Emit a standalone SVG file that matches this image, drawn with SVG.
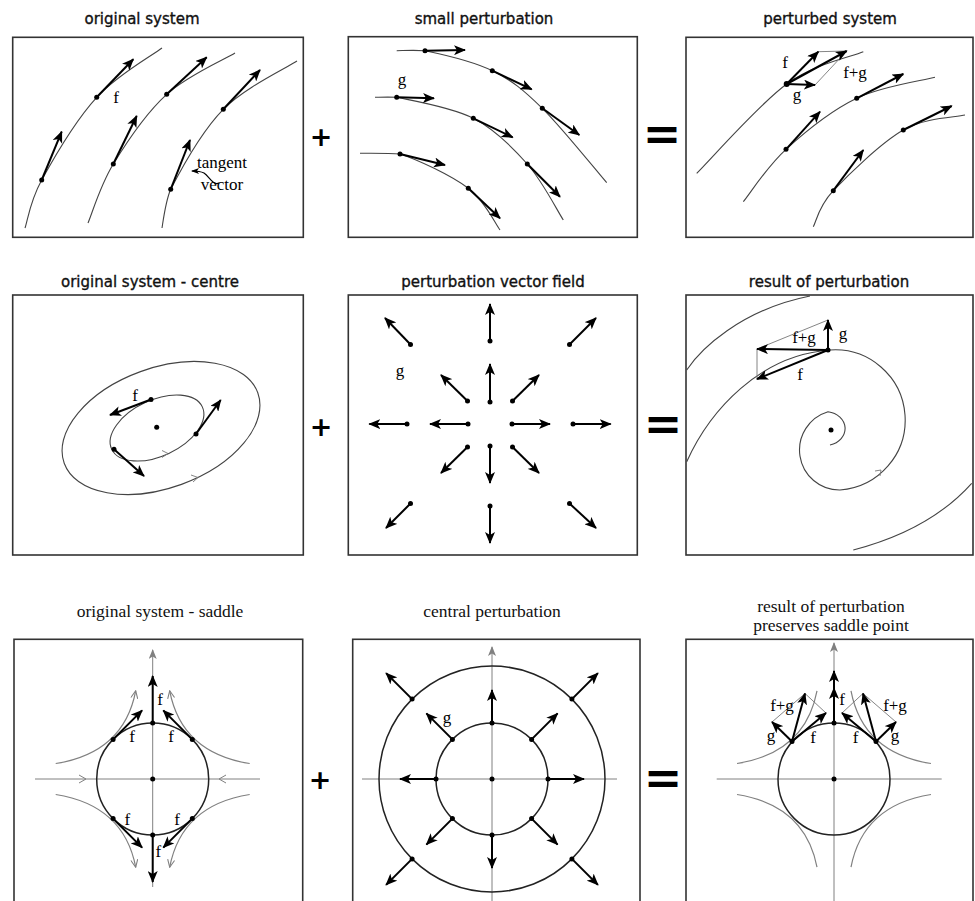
<svg xmlns="http://www.w3.org/2000/svg" width="975" height="901" viewBox="0 0 975 901">
<style>
.box{fill:none;stroke:#333;stroke-width:1.6}
.cv{fill:none;stroke:#444;stroke-width:1.1}
.ax{fill:none;stroke:#808080;stroke-width:1}
.hy{fill:none;stroke:#808080;stroke-width:1.2}
.vec{fill:none;stroke:#000;stroke-width:2;marker-end:url(#ah)}
.thin{fill:none;stroke:#777;stroke-width:0.9}
.dot{fill:#000}
.t1{font-family:"DejaVu Sans",sans-serif;font-size:15px;text-anchor:middle;fill:#111;stroke:#111;stroke-width:0.35}
.t3{font-family:"Liberation Serif",serif;font-size:17.5px;text-anchor:middle;fill:#111}
.lb{font-family:"Liberation Serif",serif;font-size:17px;text-anchor:middle;fill:#000}
.op{font-family:"DejaVu Sans",sans-serif;font-weight:bold;text-anchor:middle;fill:#000}
</style>
<defs>
<marker id="ah" viewBox="0 0 12 10" markerWidth="12" markerHeight="10" refX="11" refY="5" orient="auto" markerUnits="userSpaceOnUse"><path d="M0,0 L12,5 L0,10 L3,5 z" fill="#000"/></marker>
<marker id="ag" viewBox="0 0 10 8" markerWidth="10" markerHeight="8" refX="9" refY="4" orient="auto" markerUnits="userSpaceOnUse"><path d="M0,0 L10,4 L0,8 L2.5,4 z" fill="#808080"/></marker>
<marker id="ch" viewBox="0 0 9 8" markerWidth="9" markerHeight="8" refX="8" refY="4" orient="auto" markerUnits="userSpaceOnUse"><path d="M0.5,0.5 L8,4 L0.5,7.5" fill="none" stroke="#808080" stroke-width="1.1"/></marker>
<marker id="ap" viewBox="0 0 8 6" markerWidth="8" markerHeight="6" refX="7" refY="3" orient="auto" markerUnits="userSpaceOnUse"><path d="M0,0 L8,3 L0,6 L2,3 z" fill="#000"/></marker>
</defs>
<rect width="975" height="901" fill="#fff"/>

<g id="titles">
<text class="t1" x="142" y="24">original system</text>
<text class="t1" x="484" y="24">small perturbation</text>
<text class="t1" x="830" y="24">perturbed system</text>
<text class="t1" x="150" y="287">original system - centre</text>
<text class="t1" x="493" y="287">perturbation vector field</text>
<text class="t1" x="829" y="287">result of perturbation</text>
<text class="t3" x="160" y="617">original system - saddle</text>
<text class="t3" x="492" y="617">central perturbation</text>
<text class="t3" x="831" y="612">result of perturbation</text>
<text class="t3" x="831" y="631">preserves saddle point</text>
</g>

<g id="operators">
<text class="op" x="321" y="146" font-size="27">+</text>
<text class="op" x="662" y="150" font-size="46">=</text>
<text class="op" x="321" y="436" font-size="27">+</text>
<text class="op" x="663" y="440" font-size="46">=</text>
<text class="op" x="320" y="789" font-size="27">+</text>
<text class="op" x="663" y="794" font-size="46">=</text>
</g>

<g id="panel-original-system">
<rect class="box" x="12.7" y="37.3" width="290.6" height="200"/>
<path class="cv" d="M25,228 C27.8,220 29.75,201.8 41.7,180 C53.65,158.2 76.65,119.3 96.7,97.3 C116.75,75.3 151.1,56.2 162,48"/>
<path class="cv" d="M88,223 C92.2,213.2 100.2,185.45 113.3,164 C126.4,142.55 146.4,112.8 166.7,94.3 C187,75.8 223.6,59.9 235,53"/>
<path class="cv" d="M162,228 C164,215 166,200 170.7,189.3 C180.9,169.5 202.25,130.7 223.3,109.3 C244.35,87.9 284.7,69 297,61"/>
<path class="vec" d="M41.7,180 L61.7,131.7"/>
<path class="vec" d="M96.7,97.3 L133.3,59.3"/>
<path class="vec" d="M113.3,164 L136.7,116"/>
<path class="vec" d="M166.7,94.3 L206.7,57.3"/>
<path class="vec" d="M170.7,189.3 L190,140"/>
<path class="vec" d="M223.3,109.3 L260,70"/>
<circle class="dot" cx="41.7" cy="180" r="2.5"/>
<circle class="dot" cx="96.7" cy="97.3" r="2.5"/>
<circle class="dot" cx="113.3" cy="164" r="2.5"/>
<circle class="dot" cx="166.7" cy="94.3" r="2.5"/>
<circle class="dot" cx="170.7" cy="189.3" r="2.5"/>
<circle class="dot" cx="223.3" cy="109.3" r="2.5"/>
<text class="lb" x="116" y="103">f</text>
<text class="lb" x="222" y="168" text-anchor="start">tangent</text>
<text class="lb" x="222" y="190" text-anchor="start">vector</text>
<path d="M219,183 C213,186 209,176 204,173 C200,171 197,171 192,171" fill="none" stroke="#000" stroke-width="1.2" marker-end="url(#ap)"/>
</g>

<g id="panel-small-perturbation">
<rect class="box" x="348.3" y="36.7" width="289" height="200.6"/>
<path class="cv" d="M396.7,50.7 C406,50.5 414,50 425,50.7 C440.9,54 472.75,61.1 492.3,70.7 C511.85,80.3 523.2,89.6 542.3,108.3 C561.4,127 596,170.3 606.7,182.7"/>
<path class="cv" d="M375,97.3 C382,97.2 389,97 396.7,97.3 C413.1,100.8 451.5,107.2 473.3,118.3 C495.1,129.4 512.3,147 527.3,164 C542.3,181 557.3,210.7 563.3,220"/>
<path class="cv" d="M360,153.3 C366.7,153.4 388,153 400,154 C418.05,159.8 451.6,175.6 468.3,188.3 C485,201 494.7,223 500,230"/>
<path class="vec" d="M425,50.7 L465,50"/>
<path class="vec" d="M492.3,70.7 L531.7,89.3"/>
<path class="vec" d="M542.3,108.3 L579.3,135"/>
<path class="vec" d="M396.7,97.3 L434,98.3"/>
<path class="vec" d="M473.3,118.3 L512.7,137.3"/>
<path class="vec" d="M527.3,164 L560,196.7"/>
<path class="vec" d="M400,154 L445,165"/>
<path class="vec" d="M468.3,188.3 L500,218.3"/>
<circle class="dot" cx="425" cy="50.7" r="2.5"/>
<circle class="dot" cx="492.3" cy="70.7" r="2.5"/>
<circle class="dot" cx="542.3" cy="108.3" r="2.5"/>
<circle class="dot" cx="396.7" cy="97.3" r="2.5"/>
<circle class="dot" cx="473.3" cy="118.3" r="2.5"/>
<circle class="dot" cx="527.3" cy="164" r="2.5"/>
<circle class="dot" cx="400" cy="154" r="2.5"/>
<circle class="dot" cx="468.3" cy="188.3" r="2.5"/>
<text class="lb" x="402" y="85">g</text>
</g>

<g id="panel-perturbed-system">
<rect class="box" x="686" y="37.3" width="287" height="200"/>
<path class="cv" d="M696.7,173.3 C711.7,158.4 758.9,104.3 786.7,84 C814.5,63.7 850.5,57.1 863.3,51.7"/>
<path class="cv" d="M743.3,201.7 C750.4,193 767.1,166.5 786,149.3 C804.9,132.1 831.9,110.3 856.7,98.3 C881.5,86.3 922,80.8 935,77.3"/>
<path class="cv" d="M813.3,226.7 C816.6,220.7 818.3,206.8 833.3,190.7 C848.3,174.6 881.35,142.6 903.3,130 C925.25,117.4 954.7,117.5 965,115"/>
<path class="thin" d="M818.3,51.7 L846.7,51 M815,85 L846.7,51"/>
<path class="vec" d="M786.7,84 L818.3,51.7"/>
<path class="vec" d="M786.7,84 L815,85"/>
<path class="vec" d="M786.7,84 L846.7,51"/>
<path class="vec" d="M856.7,98.3 L903.3,74"/>
<path class="vec" d="M786,149.3 L820,111.7"/>
<path class="vec" d="M833.3,190.7 L863.3,150"/>
<path class="vec" d="M903.3,130 L951.7,106"/>
<circle class="dot" cx="786.7" cy="84" r="3"/>
<circle class="dot" cx="856.7" cy="98.3" r="2.5"/>
<circle class="dot" cx="786" cy="149.3" r="2.5"/>
<circle class="dot" cx="833.3" cy="190.7" r="2.5"/>
<circle class="dot" cx="903.3" cy="130" r="2.5"/>
<text class="lb" x="785" y="68">f</text>
<text class="lb" x="797" y="100">g</text>
<text class="lb" x="855" y="78">f+g</text>
</g>

<g id="panel-original-centre">
<rect class="box" x="12.7" y="295" width="290.6" height="260"/>
<ellipse class="cv" cx="161" cy="428" rx="103" ry="60" transform="rotate(-20 161 428)"/>
<ellipse class="cv" cx="157" cy="428" rx="50" ry="28" transform="rotate(-25 157 428)"/>
<path class="thin" d="M162,450.5 L168,453.5 L162,457.5"/>
<path class="thin" d="M191,475 L198,477.5 L193,482"/>
<path class="vec" d="M151,399.5 L110,415"/>
<path class="vec" d="M196,434 L220.7,400"/>
<path class="vec" d="M114,449.3 L144,476"/>
<circle class="dot" cx="151" cy="399.5" r="2.5"/>
<circle class="dot" cx="196" cy="434" r="2.5"/>
<circle class="dot" cx="114" cy="449.3" r="2.5"/>
<circle class="dot" cx="156.7" cy="427.3" r="2.5"/>
<text class="lb" x="135" y="400.7">f</text>
</g>

<g id="panel-perturbation-field">
<rect class="box" x="348.3" y="295" width="289" height="260"/>
<path class="vec" d="M468,424 L430,424"/>
<path class="vec" d="M512,424 L550,424"/>
<path class="vec" d="M490,402 L490,364"/>
<path class="vec" d="M490,446 L490,483"/>
<path class="vec" d="M467.5,401 L441,375"/>
<path class="vec" d="M512.5,401 L539,375"/>
<path class="vec" d="M467.5,447 L441,473"/>
<path class="vec" d="M512.5,447 L539,473"/>
<path class="vec" d="M407,424 L369.3,424"/>
<path class="vec" d="M573,424 L610.7,424"/>
<path class="vec" d="M490,341 L490,304"/>
<path class="vec" d="M490,506 L490,543"/>
<path class="vec" d="M410.5,344.5 L385,318"/>
<path class="vec" d="M569.5,344.5 L596,318"/>
<path class="vec" d="M410.5,503.5 L386,528"/>
<path class="vec" d="M569.5,503.5 L596,528"/>
<g class="dot">
<circle cx="468" cy="424" r="2.5"/><circle cx="512" cy="424" r="2.5"/><circle cx="490" cy="402" r="2.5"/><circle cx="490" cy="446" r="2.5"/>
<circle cx="467.5" cy="401" r="2.5"/><circle cx="512.5" cy="401" r="2.5"/><circle cx="467.5" cy="447" r="2.5"/><circle cx="512.5" cy="447" r="2.5"/>
<circle cx="407" cy="424" r="2.5"/><circle cx="573" cy="424" r="2.5"/><circle cx="490" cy="341" r="2.5"/><circle cx="490" cy="506" r="2.5"/>
<circle cx="410.5" cy="344.5" r="2.5"/><circle cx="569.5" cy="344.5" r="2.5"/><circle cx="410.5" cy="503.5" r="2.5"/><circle cx="569.5" cy="503.5" r="2.5"/>
</g>
<text class="lb" x="400" y="376">g</text>
</g>

<g id="panel-result-spiral">
<rect class="box" x="686" y="295" width="287" height="260"/>
<path class="cv" d="M686.7,370 C700,350 740,310 810,296"/>
<path class="cv" d="M686.7,461.7 C710,410 760,355 830,350 A70,70 0 0 1 840,490 A40,40 0 0 1 828,411.7 A20,17 0 0 1 830,445"/>
<path class="cv" d="M853.3,550 Q930,530 971.7,483.3"/>
<path class="thin" d="M875,471 L881,470 L880,476"/>
<path class="thin" d="M828,320 L757,349 L757,379"/>
<path class="vec" d="M828,350 L828,320"/>
<path class="vec" d="M828,350 L757,349"/>
<path class="vec" d="M828,350 L757,379"/>
<circle class="dot" cx="828" cy="350" r="2.5"/>
<circle class="dot" cx="831" cy="430" r="2.5"/>
<text class="lb" x="804" y="343">f+g</text>
<text class="lb" x="843" y="339">g</text>
<text class="lb" x="800" y="380">f</text>
</g>

<g id="panel-original-saddle">
<rect class="box" x="14" y="639.3" width="288.7" height="280"/>
<path class="ax" d="M152.7,887 L152.7,650" marker-end="url(#ag)"/>
<path class="ax" d="M35,779 L260,779"/>
<path class="ax" d="M79,775 L86,779 L79,783 M226,775 L219,779 L226,783"/>
<path class="hy" d="M55.7,763.5 Q123.8,752.7 135.7,690.8" marker-end="url(#ch)"/>
<path class="hy" d="M249.7,763.5 Q181.6,752.7 169.7,690.8" marker-end="url(#ch)"/>
<path class="hy" d="M55.7,794.5 Q123.8,805.3 135.7,867.2" marker-end="url(#ch)"/>
<path class="hy" d="M249.7,794.5 Q181.6,805.3 169.7,867.2" marker-end="url(#ch)"/>
<circle cx="152.7" cy="779" r="56" fill="none" stroke="#222" stroke-width="1.5"/>
<path class="vec" d="M113.1,739.4 L142.1,710.4"/>
<path class="vec" d="M192.3,739.4 L163.3,710.4"/>
<path class="vec" d="M113.1,818.6 L142.1,847.6"/>
<path class="vec" d="M192.3,818.6 L163.3,847.6"/>
<path class="vec" d="M152.7,723 L152.7,676"/>
<path class="vec" d="M152.7,835 L152.7,882"/>
<g class="dot">
<circle cx="113.1" cy="739.4" r="2.5"/><circle cx="192.3" cy="739.4" r="2.5"/><circle cx="113.1" cy="818.6" r="2.5"/><circle cx="192.3" cy="818.6" r="2.5"/>
<circle cx="152.7" cy="723" r="2.5"/><circle cx="152.7" cy="835" r="2.5"/><circle cx="152.7" cy="779" r="2.5"/>
</g>
<text class="lb" x="160" y="705">f</text>
<text class="lb" x="132" y="741.7">f</text>
<text class="lb" x="171" y="741.7">f</text>
<text class="lb" x="127.3" y="825">f</text>
<text class="lb" x="177" y="825">f</text>
<text class="lb" x="158.3" y="856.7">f</text>
</g>

<g id="panel-central-perturbation">
<rect class="box" x="352.7" y="639.3" width="287.3" height="280"/>
<path class="ax" d="M492,901 L492,647" marker-end="url(#ag)"/>
<path class="ax" d="M362,779 L617,779"/>
<circle cx="492" cy="779" r="56" fill="none" stroke="#222" stroke-width="1.5"/>
<circle cx="492" cy="779" r="113" fill="none" stroke="#222" stroke-width="1.5"/>
<path class="vec" d="M492,723 L492,690"/>
<path class="vec" d="M492,835 L492,868"/>
<path class="vec" d="M436,779 L400,779"/>
<path class="vec" d="M548,779 L584,779"/>
<path class="vec" d="M452.4,739.4 L426.4,713.4"/>
<path class="vec" d="M531.6,739.4 L557.6,713.4"/>
<path class="vec" d="M452.4,818.6 L426.4,844.6"/>
<path class="vec" d="M531.6,818.6 L557.6,844.6"/>
<path class="vec" d="M412.1,699.1 L386.1,673.1"/>
<path class="vec" d="M571.9,699.1 L597.9,673.1"/>
<path class="vec" d="M412.1,858.9 L386.1,884.9"/>
<path class="vec" d="M571.9,858.9 L597.9,884.9"/>
<g class="dot">
<circle cx="492" cy="723" r="2.5"/><circle cx="492" cy="835" r="2.5"/><circle cx="436" cy="779" r="2.5"/><circle cx="548" cy="779" r="2.5"/>
<circle cx="452.4" cy="739.4" r="2.5"/><circle cx="531.6" cy="739.4" r="2.5"/><circle cx="452.4" cy="818.6" r="2.5"/><circle cx="531.6" cy="818.6" r="2.5"/>
<circle cx="412.1" cy="699.1" r="2.5"/><circle cx="571.9" cy="699.1" r="2.5"/><circle cx="412.1" cy="858.9" r="2.5"/><circle cx="571.9" cy="858.9" r="2.5"/>
<circle cx="492" cy="779" r="2.5"/>
</g>
<text class="lb" x="447" y="723">g</text>
</g>

<g id="panel-result-saddle">
<rect class="box" x="686" y="639.3" width="287" height="280"/>
<path class="ax" d="M834,901 L834,643" marker-end="url(#ag)"/>
<path class="ax" d="M716.7,779 L941.7,779"/>
<path class="hy" d="M737,763.5 Q805.1,752.7 817,690.8"/>
<path class="hy" d="M931,763.5 Q862.9,752.7 851,690.8"/>
<path class="hy" d="M737,794.5 Q805.1,805.3 817,867.2"/>
<path class="hy" d="M931,794.5 Q862.9,805.3 851,867.2"/>
<circle cx="834" cy="779" r="56" fill="none" stroke="#222" stroke-width="1.5"/>
<path class="thin" d="M772,722 L805,693.5 L826,713 M896,722 L863,693.5 L842,713"/>
<path class="vec" d="M834,723 L834,688"/>
<path class="vec" d="M834,700 L834,671"/>
<path class="vec" d="M792,741.5 L772,722"/>
<path class="vec" d="M792,741.5 L826,713"/>
<path class="vec" d="M792,741.5 L805,693.5"/>
<path class="vec" d="M876,741.5 L896,722"/>
<path class="vec" d="M876,741.5 L842,713"/>
<path class="vec" d="M876,741.5 L863,693.5"/>
<g class="dot">
<circle cx="834" cy="723" r="2.5"/><circle cx="792" cy="741.5" r="2.5"/><circle cx="876" cy="741.5" r="2.5"/><circle cx="834" cy="779" r="2.5"/>
</g>
<text class="lb" x="842" y="705">f</text>
<text class="lb" x="782" y="711">f+g</text>
<text class="lb" x="771" y="741">g</text>
<text class="lb" x="813" y="743">f</text>
<text class="lb" x="855.5" y="743">f</text>
<text class="lb" x="895" y="741">g</text>
<text class="lb" x="895" y="711">f+g</text>
</g>
</svg>
